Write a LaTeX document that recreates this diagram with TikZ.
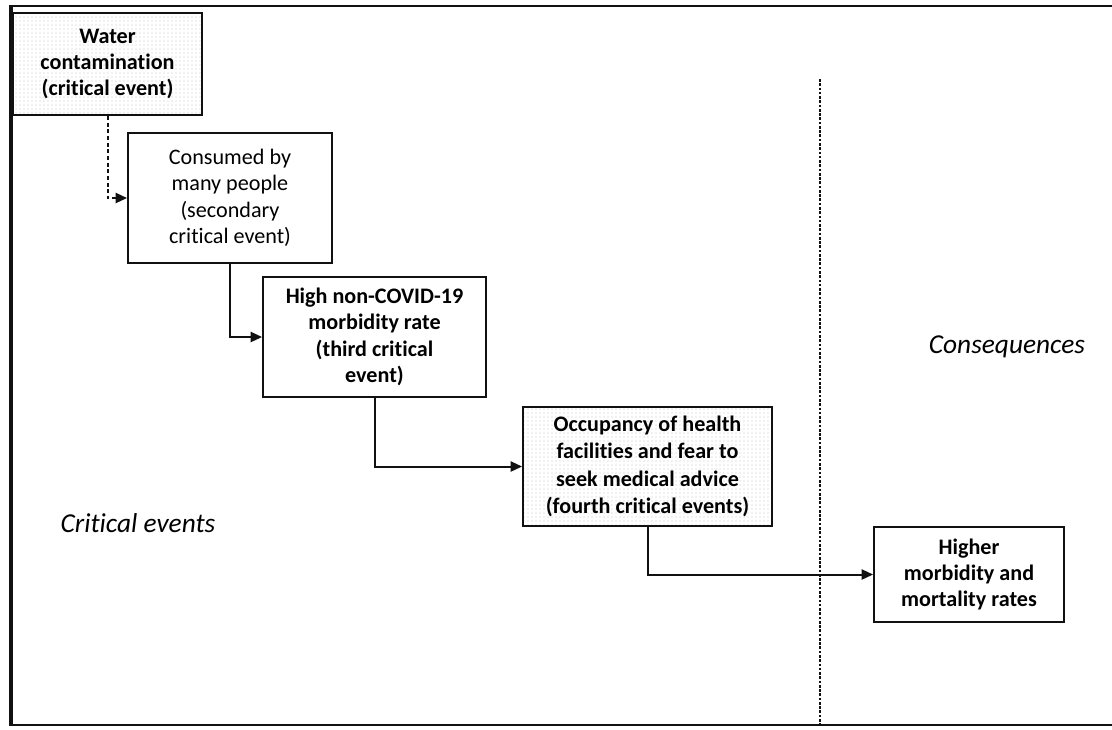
\documentclass[tikz,border=0pt]{standalone}
\usepackage{fontspec}
\setmainfont{Carlito}[Ligatures=NoCommon]
\usetikzlibrary{arrows.meta,patterns}
\definecolor{evink}{HTML}{111111}
\definecolor{evspeck}{HTML}{C4C4C4}
\newcommand{\evfont}{\fontsize{16.6}{19.8}\selectfont}
\tikzset{
  evbox/.style={draw=evink, line width=1.4pt, fill=white, align=center, inner sep=0pt, font=\evfont},
  speck/.style={evbox, pattern=dots, pattern color=evspeck},
  zone/.style={font=\fontsize{20.5}{24}\selectfont\itshape, inner sep=0pt},
  arr/.style={-{Triangle[length=8.5pt,width=7.5pt]}, line width=1.5pt, color=evink},
  divider/.style={evink, line width=0.8pt, dash pattern=on 2pt off 1.2pt},
}
\begin{document}
\begin{tikzpicture}[x=0.75pt,y=-0.75pt]
  \useasboundingbox (0,0) rectangle (1112,729);
  % outer frame, open on the right
  \draw[evink, line width=1.6pt] (1112,6) -- (11,6);
  \draw[evink, line width=1.6pt] (11,725) -- (1112,725);
  \draw[evink, line width=2.6pt] (11,5) -- (11,726);
  % divider between the two parts
  \coordinate (divtop) at (820,79);
  \coordinate (divbot) at (820,725);
  \draw[divider] (divtop) -- (divbot);
  % chain of events
  \node[speck, minimum width=141.75pt, minimum height=76.5pt, font=\evfont\bfseries] (water) at (107.5,64) {Water\\contamination\\(critical event)};
  \node[evbox, minimum width=153pt, minimum height=97.5pt] (consumed) at (230,198) {Consumed by\\many people\\(secondary\\critical event)};
  \node[evbox, minimum width=167.25pt, minimum height=90pt, font=\evfont\bfseries] (morbid) at (374.5,337) {High non-COVID-19\\morbidity rate\\(third critical\\event)};
  \node[speck, minimum width=186.75pt, minimum height=89.25pt, font=\fontsize{16.6}{20.5}\selectfont\bfseries] (occup) at (647.5,466.5) {Occupancy of health\\facilities and fear to\\seek medical advice\\(fourth critical events)};
  \node[evbox, minimum width=142.5pt, minimum height=71.25pt, font=\evfont\bfseries] (higher) at (969,574.5) {Higher\\morbidity and\\mortality rates};
  \node[zone] (crit) at (138,523) {Critical events};
  \node[zone] (conseq) at (1007,347) {Consequences};
  % links
  \draw[arr, densely dashed] (water.south) |- (consumed.west);
  \draw[arr] (consumed.south) |- (morbid.west);
  \draw[arr] (morbid.south) |- (occup.west);
  \draw[arr] (occup.south) |- (higher.west);
\end{tikzpicture}
\end{document}
